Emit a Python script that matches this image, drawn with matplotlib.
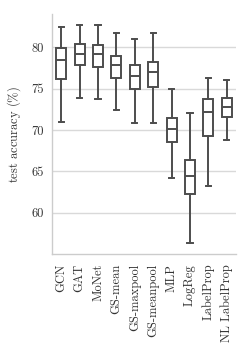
import matplotlib
matplotlib.use("Agg")
from matplotlib import pyplot as plt

plt.rcParams['font.family'] = 'serif'
plt.rcParams['font.serif'] = ['cmr10', 'DejaVu Serif']
plt.rcParams['mathtext.fontset'] = 'cm'
plt.rcParams['axes.unicode_minus'] = False

models = ['GCN', 'GAT', 'MoNet', 'GS-mean', 'GS-maxpool', 'GS-meanpool',
          'MLP', 'LogReg', 'LabelProp', 'NL LabelProp']
whislo = [70.9, 73.9, 73.7, 72.4, 70.8, 70.8, 64.2, 56.3, 63.25, 68.8]
q1 = [76.2, 77.8, 77.6, 76.3, 75.0, 75.2, 68.5, 62.3, 69.3, 71.6]
med = [78.4, 79.2, 79.2, 77.9, 76.5, 77.0, 70.1, 64.45, 72.2, 72.8]
q3 = [79.9, 80.4, 80.2, 78.9, 77.8, 78.15, 71.45, 66.35, 73.7, 73.9]
whishi = [82.45, 82.7, 82.7, 81.65, 81.0, 81.7, 75.0, 72.0, 76.3, 76.0]

stats = []
for i in range(len(models)):
    stats.append({'whislo': whislo[i], 'q1': q1[i], 'med': med[i],
                  'q3': q3[i], 'whishi': whishi[i], 'fliers': []})

fig = plt.figure(figsize=(2.5, 3.51), dpi=100)
ax = fig.add_axes([0.208, 0.276, 0.736, 0.684])

col = '#4d4d4d'
lw = 1.4
ax.bxp(stats, positions=range(len(models)), widths=0.55, showfliers=False,
       patch_artist=True,
       boxprops=dict(facecolor='white', edgecolor=col, linewidth=lw),
       medianprops=dict(color=col, linewidth=lw),
       whiskerprops=dict(color=col, linewidth=lw),
       capprops=dict(color=col, linewidth=lw))

ax.set_xlim(-0.5, len(models) - 0.5)
ax.set_ylim(55, 84)
ax.set_yticks([60, 65, 70, 75, 80])
ax.set_xticks(range(len(models)))
ax.set_xticklabels(models, rotation=90, fontsize=9)
ax.tick_params(axis='y', labelsize=9, length=0, colors='#333333', pad=6)
ax.tick_params(axis='x', length=0, colors='#333333', pad=7)
ax.set_ylabel(r'test accuracy ($\%$)', fontsize=9, color='#333333', labelpad=6)
ax.yaxis.grid(True, color='#d9d9d9', linewidth=1.0)
ax.set_axisbelow(True)
for s in ['top', 'right']:
    ax.spines[s].set_visible(False)
for s in ['left', 'bottom']:
    ax.spines[s].set_color('#cccccc')
    ax.spines[s].set_linewidth(1.0)

fig.savefig('out.png', dpi=100)
